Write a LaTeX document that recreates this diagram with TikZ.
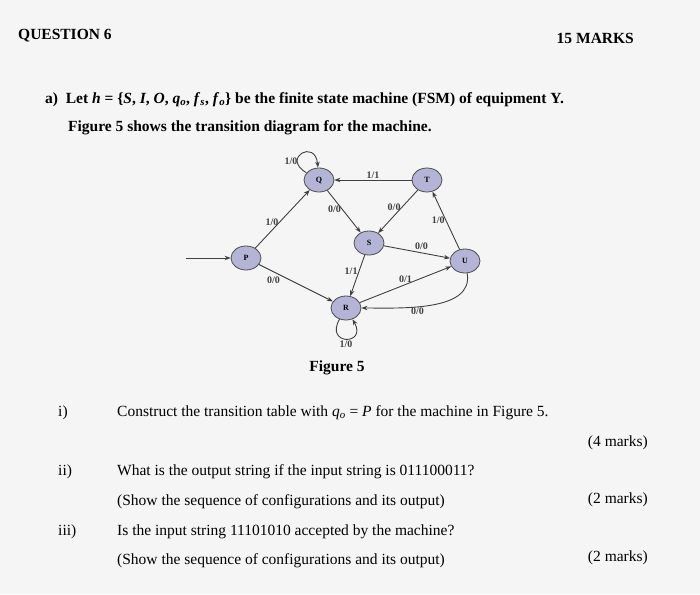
\documentclass[tikz,border=0pt]{standalone}
\usepackage{fontspec}
\setmainfont{Liberation Serif}
\usetikzlibrary{arrows.meta,shapes.geometric}
\begin{document}
\begin{tikzpicture}[x=1pt,y=-1pt,
  st/.style={draw=black!70,line width=0.8pt,fill=blue!30!gray!45,ellipse,minimum width=30pt,minimum height=24pt,inner sep=0pt,font=\bfseries\fontsize{8}{9}\selectfont},
  tr/.style={draw=black!75,line width=0.9pt,-{Stealth[length=6pt]}},
  lb/.style={font=\bfseries\fontsize{10}{11}\selectfont,text=black!75,inner sep=1pt},
  tx/.style={anchor=base west,inner sep=0pt,font=\fontsize{15.5}{18}\selectfont},
  bt/.style={tx,font=\bfseries\fontsize{15.5}{18}\selectfont}]
\fill[gray!8] (0,0) rectangle (700,594);
\useasboundingbox (0,0) rectangle (700,594);
\node[bt] (h1) at (18,40) {QUESTION 6};
\node[bt,anchor=base east] (h2) at (634,44) {15 MARKS};
\node[bt] (a1) at (45,103) {a)\ \ Let \textit{h} = \{\textit{S},\ \textit{I},\ \textit{O},\ \textit{q}\textsubscript{\textit{o}},\ \textit{f}\textsubscript{\textit{s}},\ \textit{f}\textsubscript{\textit{o}}\} be the finite state machine (FSM) of equipment Y.};
\node[bt] (a2) at (68,131) {Figure 5 shows the transition diagram for the machine.};
\node[st] (P) at (246,258) {P};
\node[st] (Q) at (319,180) {Q};
\node[st] (T) at (427,180) {T};
\node[st] (S) at (369,243) {S};
\node[st] (U) at (465,261) {U};
\node[st] (R) at (346,308) {R};
\coordinate (in) at (186,258);
\draw[tr] (in) -- (P);
\draw[tr] (P) -- node[lb,left,pos=0.45] {1/0} (Q);
\draw[tr] (P) -- node[lb,below left,pos=0.3] {0/0} (R);
\draw[tr] (Q) to[out=150,in=95,looseness=6] node[lb,pos=0.15,above left] {1/0} (Q);
\draw[tr] (Q) -- node[lb,left,pos=0.45] {0/0} (S);
\draw[tr] (T) -- node[lb,above] {1/1} (Q);
\draw[tr] (T) -- node[lb,left,pos=0.4] {0/0} (S);
\draw[tr] (S) -- node[lb,above right,pos=0.45] {0/0} (U);
\draw[tr] (S) -- node[lb,left,pos=0.4] {1/1} (R);
\draw[tr] (R) -- node[lb,above,pos=0.5] {0/1} (U);
\draw[tr] (U) to[out=-80,in=0,looseness=0.9] node[lb,below,pos=0.6] {0/0} (R);
\draw[tr] (U) -- node[lb,left,pos=0.5] {1/0} (T);
\draw[tr] (R) to[out=-120,in=-60,looseness=6] node[lb,below] {1/0} (R);
\node[bt,anchor=base] (f5) at (337,371) {Figure 5};
\node[tx] (i1) at (58,416) {i)};
\node[tx] (i2) at (117,416) {Construct the transition table with \textit{q}\textsubscript{\textit{o}} = \textit{P} for the machine in Figure 5.};
\node[tx,anchor=base east] (i3) at (648,446) {(4 marks)};
\node[tx] (j1) at (58,475) {ii)};
\node[tx] (j2) at (117,475) {What is the output string if the input string is 011100011?};
\node[tx] (j3) at (117,505) {(Show the sequence of configurations and its output)};
\node[tx,anchor=base east] (j4) at (648,503) {(2 marks)};
\node[tx] (k1) at (58,535) {iii)};
\node[tx] (k2) at (117,535) {Is the input string 11101010 accepted by the machine?};
\node[tx] (k3) at (117,564) {(Show the sequence of configurations and its output)};
\node[tx,anchor=base east] (k4) at (648,561) {(2 marks)};
\end{tikzpicture}
\end{document}
